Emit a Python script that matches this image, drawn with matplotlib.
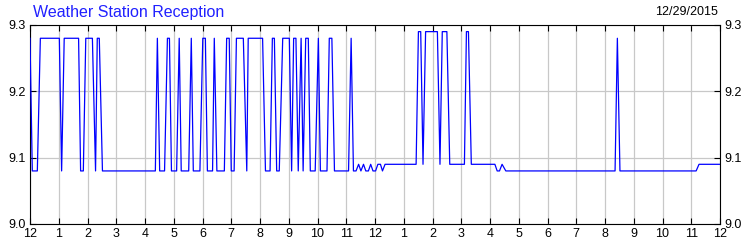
import matplotlib
matplotlib.use("Agg")
from matplotlib import pyplot as plt

plt.rcParams['font.family'] = ['Liberation Sans', 'DejaVu Sans']

# hours since midnight, reception level
hours = [0.0, 0.08, 0.255, 0.36, 1.02, 1.10, 1.19, 1.69, 1.76, 1.855,
         1.94, 2.17, 2.28, 2.34, 2.41, 2.52, 4.36, 4.43, 4.51, 4.68,
         4.78, 4.85, 4.92, 5.10, 5.19, 5.26, 5.52, 5.61, 5.68, 5.91,
         6.01, 6.10, 6.17, 6.35, 6.41, 6.50, 6.76, 6.84, 6.93, 7.00,
         7.10, 7.18, 7.42, 7.54, 7.59, 8.09, 8.19, 8.35, 8.43, 8.50,
         8.58, 8.67, 8.79, 9.02, 9.10, 9.17, 9.25, 9.33, 9.43, 9.50,
         9.59, 9.68, 9.75, 9.92, 10.03, 10.10, 10.33, 10.41, 10.50, 10.59,
         11.08, 11.17, 11.25, 11.34, 11.43, 11.51, 11.60, 11.68, 11.77, 11.85,
         11.93, 12.02, 12.10, 12.19, 12.26, 12.35, 13.43, 13.51, 13.59, 13.67,
         13.76, 14.17, 14.26, 14.34, 14.50, 14.60, 15.11, 15.18, 15.25, 15.35,
         16.17, 16.25, 16.33, 16.42, 16.55, 20.35, 20.43, 20.52, 23.17, 23.27,
         24.0]
level = [9.28, 9.08, 9.08, 9.28, 9.28, 9.08, 9.28, 9.28, 9.08, 9.08,
         9.28, 9.28, 9.08, 9.28, 9.28, 9.08, 9.08, 9.28, 9.08, 9.08,
         9.28, 9.28, 9.08, 9.08, 9.28, 9.08, 9.08, 9.28, 9.08, 9.08,
         9.28, 9.28, 9.08, 9.08, 9.28, 9.08, 9.08, 9.28, 9.28, 9.08,
         9.08, 9.28, 9.28, 9.08, 9.28, 9.28, 9.08, 9.08, 9.28, 9.28,
         9.08, 9.08, 9.28, 9.28, 9.08, 9.28, 9.28, 9.08, 9.28, 9.08,
         9.28, 9.28, 9.08, 9.08, 9.28, 9.08, 9.08, 9.28, 9.28, 9.08,
         9.08, 9.28, 9.08, 9.08, 9.09, 9.08, 9.09, 9.08, 9.08, 9.09,
         9.08, 9.08, 9.09, 9.09, 9.08, 9.09, 9.09, 9.29, 9.29, 9.09,
         9.29, 9.29, 9.09, 9.29, 9.29, 9.09, 9.09, 9.29, 9.29, 9.09,
         9.09, 9.08, 9.08, 9.09, 9.08, 9.08, 9.28, 9.08, 9.08, 9.09,
         9.09]

hour_labels = ['12', '1', '2', '3', '4', '5', '6', '7', '8', '9', '10', '11',
               '12', '1', '2', '3', '4', '5', '6', '7', '8', '9', '10', '11', '12']
y_ticks = [9.0, 9.1, 9.2, 9.3]

title = "Weather Station Reception"
date = "12/29/2015"

fig = plt.figure(figsize=(7.5, 2.5), dpi=100)
ax = fig.add_axes([30/750, 26/250, 690/750, 199/250])

ax.plot(hours, level, color='#0000ff', lw=0.9, zorder=3)

ax.set_xlim(0, 24)
ax.set_ylim(9.0, 9.3)
ax.set_xticks(range(len(hour_labels)))
ax.set_xticklabels(hour_labels)
ax.set_yticks(y_ticks)
ax.set_yticklabels(['%.1f' % v for v in y_ticks])

ax.grid(True, color='#c8c8c8', lw=0.9, zorder=0)
ax.tick_params(direction='in', length=4, width=0.8, color='black',
               top=True, right=True, labelright=True, labelsize=9, pad=3)
for s in ax.spines.values():
    s.set_linewidth(0.8)
    s.set_color('black')

fig.text(33/750, 1 - 12/250, title, color='#2020ff', fontsize=11.5, va='center', ha='left')
fig.text(718/750, 1 - 12/250, date, color='black', fontsize=9, va='center', ha='right')

fig.savefig('out.png', dpi=100)
